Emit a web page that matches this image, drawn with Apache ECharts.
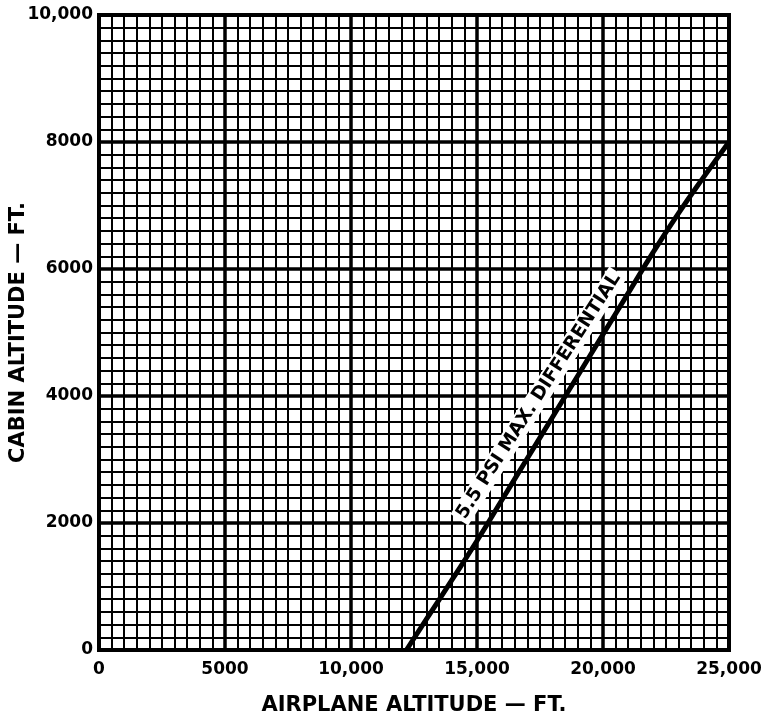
<!DOCTYPE html>
<html>
<head>
<meta charset="utf-8">
<script src="https://cdn.jsdelivr.net/npm/echarts@6/dist/echarts.min.js"></script>
<style>
html,body{margin:0;padding:0;background:#fff;}
#chart{width:765px;height:715px;}
</style>
</head>
<body>
<div id="chart"></div>
<script>
// Data
var airplaneAltitude = [12200, 13000, 14000, 15000, 16000, 17000, 18000, 19000, 20000, 21000, 22000, 23000, 24000, 25000];
var cabinAltitude    = [0,     490,   1100,  1720,  2370,  3020,  3670,  4320,  4970,  5620,  6270,  6880,  7450,  8000];
var xTickLabels = {0: '0', 5000: '5000', 10000: '10,000', 15000: '15,000', 20000: '20,000', 25000: '25,000'};
var yTickLabels = {0: '0', 2000: '2000', 4000: '4000', 6000: '6000', 8000: '8000', 10000: '10,000'};
var curveLabel = '5.5 PSI MAX. DIFFERENTIAL';
var xTitle = 'AIRPLANE ALTITUDE \u2014 FT.';
var yTitle = 'CABIN ALTITUDE \u2014 FT.';

var lineData = airplaneAltitude.map(function (x, i) { return [x, cabinAltitude[i]]; });
var FONT = 'DejaVu Sans';

var chart = echarts.init(document.getElementById('chart'), null, {renderer: 'canvas'});
chart.setOption({
  backgroundColor: '#fff',
  animation: false,
  grid: {left: 99, right: 36, top: 15, bottom: 65, show: true, borderColor: '#000', borderWidth: 4,
         backgroundColor: '#fff', containLabel: false, outerBoundsMode: 'none'},
  xAxis: {
    type: 'value', min: 0, max: 25000, interval: 5000,
    name: xTitle, nameLocation: 'middle', nameGap: 45, nameMoveOverlap: false,
    nameTextStyle: {fontFamily: FONT, fontWeight: 'bold', fontSize: 21, color: '#000'},
    axisLine: {show: false}, axisTick: {show: false},
    axisLabel: {margin: 11, fontFamily: FONT, fontWeight: 'bold', fontSize: 17, color: '#000',
      formatter: function (v) { return xTickLabels[v] !== undefined ? xTickLabels[v] : ''; }},
    splitLine: {show: true, lineStyle: {color: '#000', width: 3.5}},
    minorTick: {show: false, splitNumber: 10},
    minorSplitLine: {show: true, lineStyle: {color: '#000', width: 2}}
  },
  yAxis: {
    type: 'value', min: 0, max: 10000, interval: 2000,
    name: yTitle, nameLocation: 'middle', nameGap: 70, nameMoveOverlap: false,
    nameTextStyle: {fontFamily: FONT, fontWeight: 'bold', fontSize: 21, color: '#000'},
    axisLine: {show: false}, axisTick: {show: false},
    axisLabel: {margin: 6, fontFamily: FONT, fontWeight: 'bold', fontSize: 17, color: '#000',
      formatter: function (v) { return yTickLabels[v] !== undefined ? yTickLabels[v] : ''; }},
    splitLine: {show: true, lineStyle: {color: '#000', width: 3.5}},
    minorTick: {show: false, splitNumber: 10},
    minorSplitLine: {show: true, lineStyle: {color: '#000', width: 2}}
  },
  series: [{
    type: 'line',
    data: lineData,
    smooth: true,
    symbol: 'none',
    lineStyle: {color: '#000', width: 5},
    z: 5,
    markPoint: {
      symbol: 'circle', symbolSize: 0,
      data: [{coord: [17450, 4000], value: curveLabel}],
      label: {
        show: true, position: 'inside', rotate: 57.3,
        formatter: curveLabel,
        fontFamily: FONT, fontWeight: 'bold', fontSize: 18.5, color: '#000',
        backgroundColor: '#fff', padding: [1, 3]
      }
    }
  }]
});
</script>
</body>
</html>
